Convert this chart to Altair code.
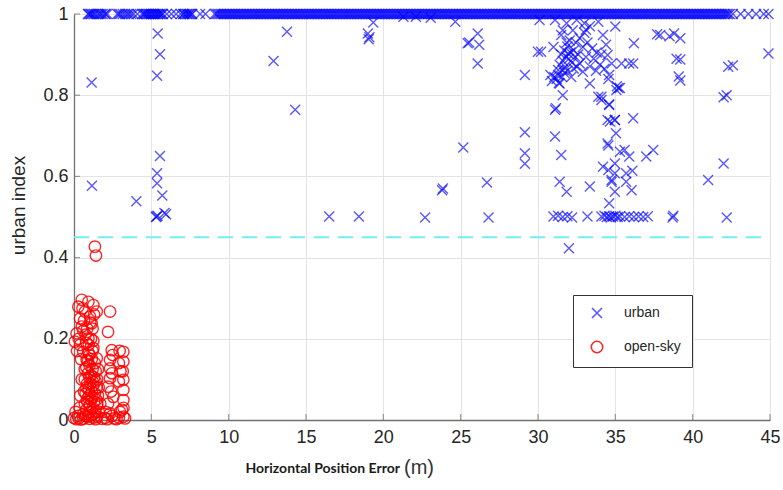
import altair as alt
import pandas as pd

# ---------------- data ----------------
x_ticks = [0, 5, 10, 15, 20, 25, 30, 35, 40, 45]
y_ticks = [0, 0.2, 0.4, 0.6, 0.8, 1.0]
threshold = 0.45

# urban points lying on urban index = 1
urban_top_x = [
    0.9, 1.05, 1.2, 1.4, 1.55, 1.75, 2.0, 2.15,
    2.8, 3.0, 3.3, 3.55, 3.7, 4.1,
    4.4, 4.55, 4.7, 4.85, 5.0, 5.15, 5.3, 5.45, 5.6, 5.75,
    6.0, 6.3, 6.6, 6.9, 7.05, 7.2, 7.35, 7.5, 7.65, 8.15, 8.5,
    9.1, 9.3, 9.5, 9.7, 9.9, 10.1, 10.3, 10.5, 10.7, 10.9,
    11.1, 11.3, 11.5, 11.7, 11.9, 12.1, 12.3, 12.5, 12.7, 12.9,
    13.1, 13.3, 13.5, 13.7, 13.9, 14.1, 14.3, 14.5, 14.7, 14.9,
    15.1, 15.3, 15.5, 15.7, 15.9, 16.1, 16.3, 16.5, 16.7, 16.9,
    17.1, 17.3, 17.5, 17.7, 17.9, 18.1, 18.3, 18.5, 18.7, 18.9,
    19.1, 19.3, 19.5, 19.7, 19.9, 20.1, 20.3, 20.5, 20.7, 20.9,
    21.1, 21.3, 21.5, 21.7, 21.9, 22.1, 22.3, 22.5, 22.7, 22.9,
    23.1, 23.3, 23.5, 23.7, 23.9, 24.1, 24.3, 24.5, 24.7, 24.9,
    25.1, 25.3, 25.5, 25.7, 25.9, 26.1, 26.3, 26.5, 26.7, 26.9,
    27.1, 27.3, 27.5, 27.7, 27.9, 28.1, 28.3, 28.5, 28.7, 28.9,
    29.1, 29.3, 29.5, 29.7, 29.9, 30.1, 30.3, 30.5, 30.7, 30.9,
    31.1, 31.3, 31.5, 31.7, 31.9, 32.1, 32.3, 32.5, 32.7, 32.9,
    33.1, 33.3, 33.5, 33.7, 33.9, 34.1, 34.3, 34.5, 34.7, 34.9,
    35.1, 35.3, 35.5, 35.7, 35.9, 36.1, 36.3, 36.5, 36.7, 36.9,
    37.1, 37.3, 37.5, 37.7, 37.9, 38.1, 38.3, 38.5, 38.7, 38.9,
    39.1, 39.3, 39.5, 39.7, 39.9, 40.1, 40.3, 40.5, 40.7, 40.9,
    41.1, 41.3, 41.5, 41.7, 41.9, 42.1, 42.3,
    42.6, 43.1, 43.6, 44.1, 44.6, 44.9,
]
urban_top_x2 = [
    0.95, 1.1, 1.3, 1.65, 1.85, 2.05, 2.9, 3.15, 3.45, 3.85,
    4.5, 4.65, 4.8, 4.95, 5.1, 5.25, 5.4, 5.55, 5.7, 7.1, 7.3, 7.45, 7.6,
    9.2, 9.4, 9.6, 9.8, 10.0, 10.2, 10.4, 10.6, 10.8, 11.0,
    11.2, 11.4, 11.6, 11.8, 12.0, 12.2, 12.4, 12.6, 12.8, 13.0,
    13.2, 13.4, 13.6, 13.8, 14.0, 14.2, 14.4, 14.6, 14.8, 15.0,
    15.2, 15.4, 15.6, 15.8, 16.0, 16.2, 16.4, 16.6, 16.8, 17.0,
    17.2, 17.4, 17.6, 17.8, 18.0, 18.2, 18.4, 18.6, 18.8, 19.0,
    19.2, 19.4, 19.6, 19.8, 20.0, 20.2, 20.4, 20.6, 20.8, 21.0,
    21.2, 21.4, 21.6, 21.8, 22.0, 22.2, 22.4, 22.6, 22.8, 23.0,
    23.2, 23.4, 23.6, 23.8, 24.0, 24.2, 24.4, 24.6, 24.8, 25.0,
    25.2, 25.4, 25.6, 25.8, 26.0, 26.2, 26.4, 26.6, 26.8, 27.0,
    27.2, 27.4, 27.6, 27.8, 28.0, 28.2, 28.4, 28.6, 28.8, 29.0,
    29.2, 29.4, 29.6, 29.8, 30.0, 30.2, 30.4, 30.6, 30.8, 31.0,
    31.2, 31.4, 31.6, 31.8, 32.0, 32.2, 32.4, 32.6, 32.8, 33.0,
    33.2, 33.4, 33.6, 33.8, 34.0, 34.2, 34.4, 34.6, 34.8, 35.0,
    35.2, 35.4, 35.6, 35.8, 36.0, 36.2, 36.4, 36.6, 36.8, 37.0,
    37.2, 37.4, 37.6, 37.8, 38.0, 38.2, 38.4, 38.6, 38.8, 39.0,
    39.2, 39.4, 39.6, 39.8, 40.0, 40.2, 40.4, 40.6, 40.8, 41.0,
    41.2, 41.4, 41.6, 41.8, 42.0, 42.2, 42.4,
]

# other urban points (x, urban index)
urban_pts = [
    (1.14, 0.831), (1.16, 0.577), (4.03, 0.539), (5.41, 0.952), (5.56, 0.901),
    (5.37, 0.848), (5.56, 0.650), (5.37, 0.608), (5.37, 0.583), (5.71, 0.553),
    (5.34, 0.501), (5.40, 0.503), (5.30, 0.500), (5.95, 0.507), (5.85, 0.510),
    (12.9, 0.884), (13.77, 0.956), (14.3, 0.764), (16.5, 0.501), (18.42, 0.501),
    (19.0, 0.952), (19.05, 0.938), (19.1, 0.943), (19.35, 0.979), (21.3, 0.993),
    (22.1, 0.993), (23.06, 0.991), (22.7, 0.499), (23.8, 0.566), (23.85, 0.570),
    (24.65, 0.981), (25.17, 0.671), (25.45, 0.928), (25.55, 0.930), (26.1, 0.952),
    (26.2, 0.924), (26.1, 0.878), (26.7, 0.585), (26.8, 0.499),
    (29.15, 0.850), (29.15, 0.709), (29.15, 0.657), (29.15, 0.631), (30.0, 0.907),
    (30.2, 0.907), (30.1, 0.985), (31.1, 0.985), (31.85, 0.977), (32.5, 0.985),
    (33.0, 0.977), (33.1, 0.961), (33.35, 0.970), (33.9, 0.981), (34.2, 0.948),
    (35.0, 0.969), (36.2, 0.928), (37.7, 0.950), (38.5, 0.945), (38.8, 0.952),
    (39.2, 0.940), (38.96, 0.890), (39.2, 0.888), (39.1, 0.846), (39.2, 0.836),
    (31.5, 0.948), (33.0, 0.954), (37.9, 0.948), (31.0, 0.919), (31.95, 0.903),
    (32.9, 0.919), (33.5, 0.915), (34.4, 0.924), (34.5, 0.899), (33.1, 0.894),
    (32.7, 0.878), (32.3, 0.866), (33.35, 0.871), (34.0, 0.875), (34.76, 0.878),
    (35.4, 0.878), (35.9, 0.878), (36.15, 0.878), (30.8, 0.850), (31.3, 0.862),
    (31.6, 0.862), (31.4, 0.829), (31.6, 0.800), (31.1, 0.764), (33.35, 0.829),
    (34.6, 0.850), (34.1, 0.796), (34.6, 0.776), (35.3, 0.818), (35.07, 0.813),
    (36.15, 0.743), (34.5, 0.739), (34.97, 0.739), (32.9, 0.858),
    (31.7, 0.910), (31.8, 0.895), (31.9, 0.920), (32.0, 0.890), (32.1, 0.905),
    (32.2, 0.880), (31.6, 0.885), (31.75, 0.870), (32.05, 0.935), (31.85, 0.930),
    (32.3, 0.910), (32.4, 0.895), (31.5, 0.900), (31.4, 0.875), (31.3, 0.850),
    (31.55, 0.845), (31.2, 0.840), (31.7, 0.855), (31.9, 0.860), (32.15, 0.845),
    (32.5, 0.870), (32.6, 0.900), (31.35, 0.830), (30.9, 0.835), (31.05, 0.845),
    (32.45, 0.930), (32.7, 0.940), (31.6, 0.960), (32.25, 0.960), (33.2, 0.930),
    (33.6, 0.890), (33.8, 0.905), (34.1, 0.900), (34.3, 0.865), (33.75, 0.860),
    (34.5, 0.681), (34.55, 0.676), (35.3, 0.661), (35.6, 0.665), (35.9, 0.649),
    (37.0, 0.649), (37.45, 0.665), (34.2, 0.624), (34.55, 0.616), (34.97, 0.608),
    (34.76, 0.591), (35.7, 0.608), (36.1, 0.614), (34.97, 0.632), (34.65, 0.735),
    (34.97, 0.739), (35.04, 0.706), (33.9, 0.796), (34.1, 0.788), (34.6, 0.778),
    (35.2, 0.818), (35.1, 0.822), (34.55, 0.840), (31.16, 0.768), (31.1, 0.698),
    (31.5, 0.653), (31.4, 0.587), (31.85, 0.562), (33.35, 0.575), (34.76, 0.587),
    (34.97, 0.562), (35.7, 0.587), (36.05, 0.566), (34.6, 0.534), (32.0, 0.423),
    (41.0, 0.591), (42.0, 0.632), (42.2, 0.800), (42.0, 0.795), (42.3, 0.870),
    (42.6, 0.874), (44.9, 0.903),
    (31.0, 0.501), (31.3, 0.503), (31.6, 0.500), (31.9, 0.502), (32.2, 0.499),
    (33.2, 0.501), (34.1, 0.501), (34.3, 0.503), (34.45, 0.500), (34.6, 0.502),
    (34.7, 0.499), (34.85, 0.501), (35.0, 0.503), (35.15, 0.500), (35.3, 0.501),
    (35.6, 0.500), (35.9, 0.502), (36.2, 0.500), (36.5, 0.501), (36.8, 0.500),
    (37.1, 0.502), (38.7, 0.499), (38.75, 0.503), (42.2, 0.499),
]

# open-sky points (x, urban index)
sky_pts = [
    (0.5, 0.296), (0.93, 0.291), (1.25, 0.283), (0.28, 0.279), (0.71, 0.267),
    (1.47, 0.267), (2.33, 0.267), (0.39, 0.250), (1.03, 0.255), (0.5, 0.230),
    (1.14, 0.238), (2.2, 0.217), (0.17, 0.213), (0.06, 0.193), (0.39, 0.185),
    (0.93, 0.201), (0.6, 0.168), (1.25, 0.177), (0.82, 0.148), (1.47, 0.152),
    (2.44, 0.172), (3.19, 0.168), (2.33, 0.148), (3.19, 0.144), (2.33, 0.127),
    (2.33, 0.103), (3.19, 0.099), (2.2, 0.082), (3.19, 0.074), (2.54, 0.057),
    (3.19, 0.049), (2.97, 0.020), (2.33, 0.016), (3.19, 0.008),
    (1.35, 0.427), (1.42, 0.405),
    (0.8, 0.130), (1.0, 0.135), (1.2, 0.125), (1.4, 0.120), (0.9, 0.115),
    (1.1, 0.110), (1.3, 0.105), (0.7, 0.100), (1.5, 0.100), (0.85, 0.090),
    (1.05, 0.090), (1.25, 0.085), (1.45, 0.080), (0.95, 0.075), (1.15, 0.070),
    (1.35, 0.065), (0.75, 0.065), (1.55, 0.060), (0.9, 0.055), (1.1, 0.050),
    (1.3, 0.045), (0.7, 0.040), (1.5, 0.040), (1.0, 0.035), (1.2, 0.030),
    (0.8, 0.025), (1.4, 0.020), (1.6, 0.020), (0.6, 0.015), (1.1, 0.012),
    (0.9, 0.008), (1.3, 0.006),
    (1.0, 0.160), (1.2, 0.170), (0.95, 0.185), (1.1, 0.200), (0.75, 0.210),
    (0.85, 0.225), (0.65, 0.245), (1.2, 0.225), (1.3, 0.260), (0.55, 0.275),
    (0.0, 0.005), (0.15, 0.002), (0.3, 0.004), (0.45, 0.001), (1.8, 0.003),
    (2.0, 0.005), (2.15, 0.002), (2.6, 0.004), (2.75, 0.002), (3.3, 0.004),
    (3.1, 0.025), (2.2, 0.040), (2.9, 0.095), (2.9, 0.140), (3.0, 0.120),
    (2.5, 0.160), (0.1, 0.020), (0.35, 0.030), (0.2, 0.170), (0.3, 0.200),
    (0.9, 0.145), (1.15, 0.150), (1.35, 0.140), (0.7, 0.125), (1.55, 0.125),
    (1.0, 0.105), (1.2, 0.095), (0.8, 0.080), (1.4, 0.095), (1.6, 0.080),
    (1.0, 0.060), (1.2, 0.055), (0.85, 0.045), (1.45, 0.050), (0.65, 0.070),
    (1.05, 0.020), (1.25, 0.015), (0.75, 0.010), (1.5, 0.008), (1.7, 0.040),
    (0.95, 0.165), (1.25, 0.195), (0.8, 0.190), (1.05, 0.240), (0.6, 0.220),
    (0.45, 0.150), (0.5, 0.100), (0.4, 0.060), (0.25, 0.010), (0.6, 0.003),
    (1.0, 0.003), (1.4, 0.002), (2.45, 0.010), (2.9, 0.006), (3.2, 0.030),
    (2.4, 0.070), (2.45, 0.115), (3.15, 0.120), (2.95, 0.170), (2.05, 0.020),
]

categories = ["urban", "open-sky"]
colors = ["#0000ff", "#ff0000"]

# ---------------- tables ----------------
rows = [{"err": x, "idx": 1.0, "type": "urban"} for x in urban_top_x + urban_top_x2]
rows += [{"err": x, "idx": y, "type": "urban"} for x, y in urban_pts]
rows += [{"err": x, "idx": y, "type": "open-sky"} for x, y in sky_pts]
df = pd.DataFrame(rows)

W, H = 696, 406
xs = alt.Scale(domain=[0, 45], nice=False)
ys = alt.Scale(domain=[0, 1], nice=False)
cross = "M-1,-1L1,1M-1,1L1,-1"

points = alt.Chart(df).mark_point(filled=False, strokeWidth=1.4).encode(
    x=alt.X("err:Q", scale=xs, axis=alt.Axis(
        values=x_ticks, title=None, ticks=False, labelFontSize=18,
        labelFont="Liberation Sans", labelColor="#262626", labelPadding=8,
        labelFlush=False,
        domainColor="#707070", domainWidth=1.3, gridColor="#e3e3e3")),
    y=alt.Y("idx:Q", scale=ys, axis=alt.Axis(
        values=y_ticks, format="~g", title="urban index", ticks=False,
        labelFontSize=18, labelFont="Liberation Sans", labelColor="#262626",
        labelPadding=6, labelFlush=False, titleFontSize=19,
        titleFont="Liberation Sans", titleY=191,
        titleFontWeight="normal", titleColor="#262626", titlePadding=14,
        domainColor="#707070", domainWidth=1.3, gridColor="#e3e3e3")),
    color=alt.Color("type:N", scale=alt.Scale(domain=categories, range=colors),
                    legend=alt.Legend(
                        orient="none", legendX=499, legendY=281, title=None,
                        strokeColor="#333333", fillColor="white", padding=11,
                        labelFontSize=14, labelFont="Liberation Sans",
                        labelColor="#262626", symbolSize=110, symbolOffset=6,
                        symbolStrokeWidth=1.6, rowPadding=16, labelOffset=20)),
    shape=alt.Shape("type:N", scale=alt.Scale(domain=categories, range=[cross, "circle"])),
    size=alt.Size("type:N", scale=alt.Scale(domain=categories, range=[100, 130]), legend=None),
    opacity=alt.Opacity("type:N", scale=alt.Scale(domain=categories, range=[0.65, 0.85]), legend=None),
)

thr = alt.Chart(pd.DataFrame({"y": [threshold], "x0": [0], "x1": [45]})).mark_rule(
    color="#70f0f0", strokeWidth=2, strokeDash=[15, 9]
).encode(y=alt.Y("y:Q", scale=ys), x=alt.X("x0:Q", scale=xs), x2="x1:Q")

xt = alt.Chart(pd.DataFrame({"t": x_ticks})).mark_tick(
    orient="vertical", size=6, color="#707070", thickness=1.2
).encode(x=alt.X("t:Q", scale=xs), y=alt.value(H - 3))

yt = alt.Chart(pd.DataFrame({"t": y_ticks})).mark_tick(
    orient="horizontal", size=6, color="#707070", thickness=1.2
).encode(y=alt.Y("t:Q", scale=ys), x=alt.value(3))

title_df = pd.DataFrame({"a": ["Horizontal Position Error"], "b": ["(m)"]})
t1 = alt.Chart(title_df).mark_text(
    font="Lato", fontWeight="bold", fontSize=14, color="#1a1a1a", align="right",
    baseline="alphabetic"
).encode(text="a:N", x=alt.value(326), y=alt.value(H + 53))
t2 = alt.Chart(title_df).mark_text(
    font="Liberation Sans", fontSize=20, color="#333333", align="left",
    baseline="alphabetic"
).encode(text="b:N", x=alt.value(330), y=alt.value(H + 54))

chart = alt.layer(thr, points, xt, yt, t1, t2).properties(
    width=W, height=H,
    autosize=alt.AutoSizeParams(type="none"),
    padding={"left": 74, "top": 14, "right": 13, "bottom": 70},
).configure_view(stroke=None).configure(background="white")

chart.save("out.html", embed_options={"renderer": "svg", "actions": False})
